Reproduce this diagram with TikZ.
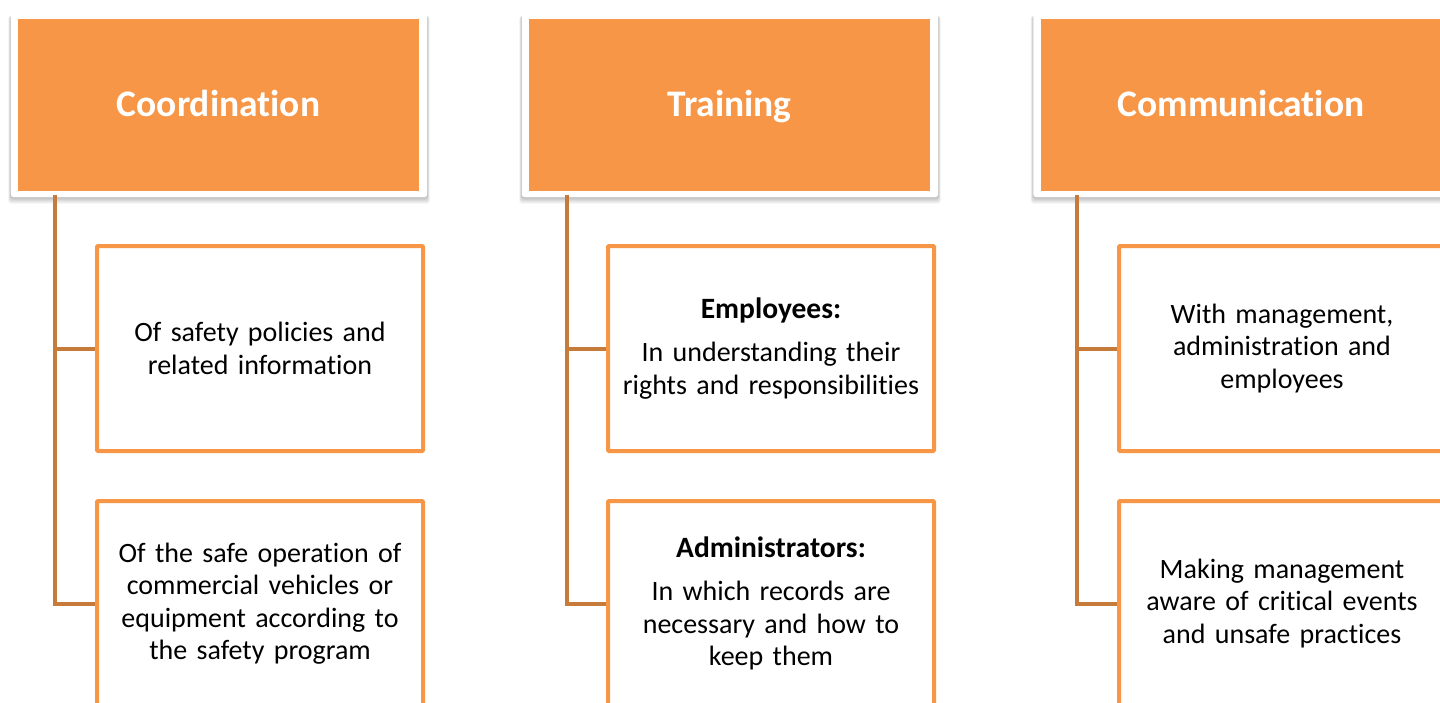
\documentclass[tikz,border=0pt]{standalone}
\usepackage{fontspec}
\setmainfont{Carlito}[RawFeature=-liga]
\usetikzlibrary{calc,backgrounds}
\definecolor{org}{HTML}{F79646}
\definecolor{linkc}{HTML}{C77B3B}
\newcommand\hframe[1]{%
  \foreach \s in {1,...,5}{%
    \fill[black,opacity=0.05,rounded corners=3pt] ($(#1.north west)+(-7-0.5*\s,-3)$) rectangle ($(#1.south east)+(8+0.5*\s,6+1.3*\s)$);}
  \fill[white,rounded corners=3pt] ($(#1.north west)+(-7,-7)$) rectangle ($(#1.south east)+(8,6)$);
}
\newcommand\lead[1]{{\fontsize{29.5}{32.5}\selectfont\bfseries #1}}
\begin{document}
\begin{tikzpicture}[x=1pt,y=-1pt,
  hdr/.style={fill=org, minimum width=401pt, minimum height=172pt, inner sep=0pt, text=white,
              text height=28pt, text depth=6pt,
              font=\fontsize{37.5}{44}\selectfont\bfseries},
  sub/.style={draw=org, line width=4pt, fill=white, minimum width=326pt, minimum height=205pt,
              text width=322pt, align=center, inner sep=0pt, rounded corners=1pt,
              font=\fontsize{28}{32.5}\selectfont},
  link/.style={draw=linkc, line width=4pt},
]
\useasboundingbox (0,0) rectangle (1440,702);

% headers
\node[hdr] (h1) at (218.5,105) {Coordination};
\node[hdr] (h2) at (729.5,105) {Training};
\node[hdr] (h3) at (1241,105) {Communication};

% sub boxes
\node[sub] (s1a) at (260,348.5) {Of safety policies and\\related information};
\node[sub] (s1b) at (260,603.5) {Of the safe operation of\\commercial vehicles or\\equipment according to\\the safety program};
\node[sub] (s2a) at (771,348.5) {\lead{Employees:}\\[11pt]In understanding their\\rights and responsibilities};
\node[sub] (s2b) at (771,603.5) {\lead{Administrators:}\\[11pt]In which records are\\necessary and how to\\keep them};
\node[sub] (s3a) at (1282,348.5) {With management,\\administration and\\employees};
\node[sub] (s3b) at (1282,603.5) {Making management\\aware of critical events\\and unsafe practices};

\coordinate (v1) at ($(h1.south west)+(37,4)$);
\coordinate (v2) at ($(h2.south west)+(38,4)$);
\coordinate (v3) at ($(h3.south west)+(37,4)$);

\begin{scope}[on background layer]
  \hframe{h1}
  \hframe{h2}
  \hframe{h3}
  \draw[link] (v1) |- (s1a.west);
  \draw[link] (v1) |- (s1b.west);
  \draw[link] (v2) |- (s2a.west);
  \draw[link] (v2) |- (s2b.west);
  \draw[link] (v3) |- (s3a.west);
  \draw[link] (v3) |- (s3b.west);
\end{scope}
\end{tikzpicture}
\end{document}
